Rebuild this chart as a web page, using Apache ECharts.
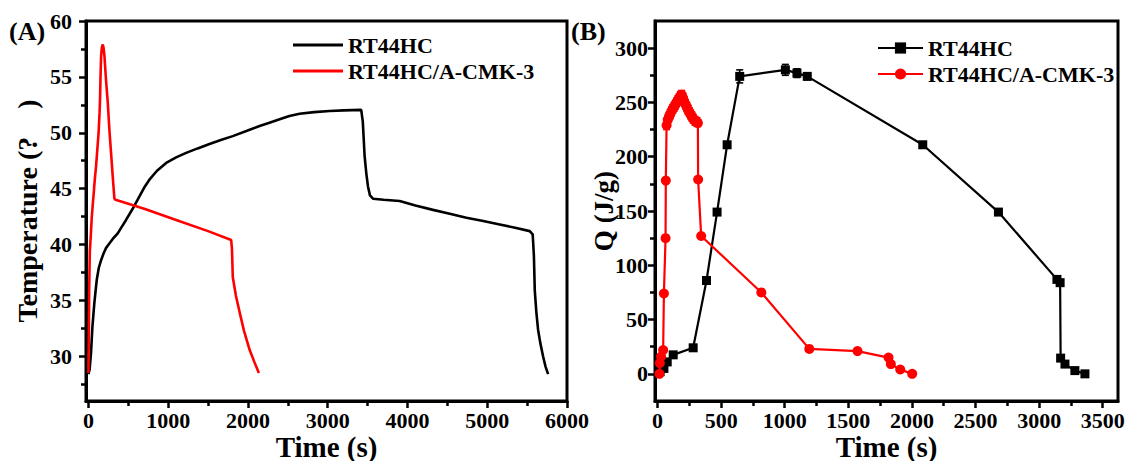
<!DOCTYPE html>
<html>
<head>
<meta charset="utf-8">
<script src="https://cdn.jsdelivr.net/npm/echarts@6/dist/echarts.min.js"></script>
<style>
  html, body { margin: 0; padding: 0; background: #fff; }
  #chart { width: 1126px; height: 461px; }
</style>
</head>
<body>
<div id="chart"></div>
<script>
// ---- data ----------------------------------------------------------------
const nameA = 'RT44HC';
const nameB = 'RT44HC/A-CMK-3';

// (A) temperature history, [time (s), temperature]
const tempRT44HC = [
  [0, 28.4], [15, 28.8], [33, 30.3], [50, 32.6], [75, 34.8], [104, 36.8], [130, 37.9],
  [159, 38.6], [190, 39.2], [222, 39.7], [263, 40.1], [305, 40.5], [368, 41.0], [420, 41.6],
  [472, 42.2], [555, 43.2], [640, 44.3], [700, 45.1], [765, 45.8], [860, 46.6], [975, 47.3],
  [1100, 47.8], [1225, 48.2], [1370, 48.6], [1518, 49.0], [1660, 49.35], [1810, 49.7],
  [1980, 50.15], [2146, 50.6], [2270, 50.9], [2397, 51.2], [2520, 51.5], [2648, 51.7],
  [2830, 51.85], [3024, 51.95], [3200, 52.0], [3420, 52.05], [3440, 51.0], [3463, 47.9],
  [3485, 46.3], [3505, 45.2], [3530, 44.4], [3568, 44.1], [3700, 44.0], [3902, 43.9],
  [4100, 43.5], [4320, 43.1], [4530, 42.75], [4739, 42.4], [4950, 42.1], [5157, 41.8],
  [5350, 41.5], [5533, 41.2], [5570, 40.9], [5585, 39.0], [5596, 35.9], [5615, 34.0],
  [5637, 32.4], [5665, 31.2], [5700, 30.0], [5730, 29.1], [5763, 28.4]
];
const tempComposite = [
  [0, 28.5], [5, 31.5], [10, 36.0], [18, 39.4], [30, 40.8], [42, 42.4], [55, 43.6],
  [67, 44.6], [80, 45.8], [96, 47.0], [113, 48.6], [128, 50.0], [140, 51.8], [146, 53.0],
  [152, 55.0], [159, 56.8], [168, 57.6], [180, 57.9], [190, 57.6], [201, 56.9], [220, 54.8],
  [243, 52.7], [262, 50.4], [284, 48.2], [305, 46.1], [326, 44.1], [340, 44.0], [700, 43.2],
  [1100, 42.2], [1500, 41.2], [1790, 40.4], [1800, 39.6], [1810, 37.1], [1850, 35.4],
  [1894, 34.0], [1950, 32.3], [2020, 30.6], [2080, 29.5], [2137, 28.5]
];

// (B) released heat Q (J/g) with error
const qTimeRT44HC = [20, 50, 76, 123, 280, 385, 468, 547, 646, 1005, 1096, 1177, 2085, 2680, 3140, 3165, 3169, 3203, 3281, 3360];
const qRT44HC     = [2, 5, 11, 17.5, 24, 86, 149, 211, 274, 280, 277, 274, 211, 149, 87, 84, 14.5, 9, 3, 0];
const qErrRT44HC  = [0, 0, 0, 0, 0, 0, 0, 0, 6, 5, 4, 3, 0, 0, 0, 0, 0, 0, 0, 0];

const qTimeComposite = [15, 18, 28, 44, 50, 63, 65, 71, 80, 90, 100, 110, 120, 130, 140, 150, 160, 170,
  180, 190, 200, 210, 220, 230, 240, 250, 260, 270, 280, 295, 310, 317, 319, 343, 816, 1193, 1572,
  1816, 1834, 1908, 2002];
const qComposite = [0, 10, 16, 22, 74, 125, 178, 229, 234, 237, 239, 242, 244, 246, 248, 250, 252, 254,
  256, 257, 254, 251, 248, 246, 243, 241, 239, 237, 235, 233, 232, 231, 179, 127, 75, 23, 21,
  15, 9, 4, 0];
const qErrComposite = [0, 0, 0, 0, 0, 0, 0, 4, 4, 4, 4, 4, 4, 4, 4, 4, 4, 4,
  4, 4, 4, 4, 4, 4, 4, 4, 4, 4, 4, 4, 4, 3, 0, 0, 0, 0, 0,
  0, 0, 0, 0];

// tick positions
const timeTicksA  = [0, 1000, 2000, 3000, 4000, 5000, 6000];
const timeMinorA  = [500, 1500, 2500, 3500, 4500, 5500];
const tempTicks   = [30, 35, 40, 45, 50, 55, 60];
const tempMinor   = [27.5, 32.5, 37.5, 42.5, 47.5, 52.5, 57.5];
const timeTicksB  = [0, 500, 1000, 1500, 2000, 2500, 3000, 3500];
const timeMinorB  = [250, 750, 1250, 1750, 2250, 2750, 3250];
const qTicks      = [0, 50, 100, 150, 200, 250, 300];
const qMinor      = [25, 75, 125, 175, 225, 275];

// ---- styling helpers -----------------------------------------------------
const FONT = '"Liberation Serif", "Times New Roman", serif';
const BLACK = '#000000';
const RED = '#ff0000';

function mainAxis(gridIndex, position, min, max, ticks, labelMargin, name, nameGap, nameSize) {
  return {
    type: 'value', gridIndex, position, min, max,
    name, nameLocation: 'middle', nameGap, nameMoveOverlap: false,
    nameTextStyle: { fontFamily: FONT, fontWeight: 'bold', fontSize: nameSize, color: BLACK },
    axisLine: { show: true, onZero: false, lineStyle: { color: BLACK, width: 3 } },
    axisTick: { show: true, inside: false, length: 7, customValues: ticks, lineStyle: { color: BLACK, width: 2.5 } },
    axisLabel: {
      show: true, customValues: ticks, margin: labelMargin,
      formatter: v => String(v),
      fontFamily: FONT, fontWeight: 'bold', fontSize: 22, color: BLACK
    },
    splitLine: { show: false }
  };
}
function minorAxis(gridIndex, position, min, max, ticks) {
  return {
    type: 'value', gridIndex, position, min, max,
    axisLine: { show: false, onZero: false },
    axisTick: { show: true, inside: false, length: 5, customValues: ticks, lineStyle: { color: BLACK, width: 2.5 } },
    axisLabel: { show: false },
    splitLine: { show: false }
  };
}
function pairs(xs, ys) { return xs.map((x, i) => [x, ys[i]]); }
function triples(xs, ys, es) { return xs.map((x, i) => [x, ys[i], es[i]]); }

function errorBars(xIdx, yIdx, data, color) {
  return {
    type: 'custom', xAxisIndex: xIdx, yAxisIndex: yIdx, silent: true, z: 3,
    encode: { x: 0, y: 1 },
    data,
    renderItem(params, api) {
      const x = api.value(0), y = api.value(1), e = api.value(2);
      if (!e) return null;
      const hi = api.coord([x, y + e]);
      const lo = api.coord([x, y - e]);
      const cap = 3.5;
      const style = { stroke: color, lineWidth: 1.6 };
      return {
        type: 'group',
        children: [
          { type: 'line', shape: { x1: hi[0], y1: hi[1], x2: lo[0], y2: lo[1] }, style },
          { type: 'line', shape: { x1: hi[0] - cap, y1: hi[1], x2: hi[0] + cap, y2: hi[1] }, style },
          { type: 'line', shape: { x1: lo[0] - cap, y1: lo[1], x2: lo[0] + cap, y2: lo[1] }, style }
        ]
      };
    }
  };
}

const legendText = { fontFamily: FONT, fontWeight: 'bold', fontSize: 22, color: BLACK };

// ---- chart ---------------------------------------------------------------
const chart = echarts.init(document.getElementById('chart'), null, { renderer: 'svg' });

const gridBase = { top: 21, bottom: 60, show: true, borderColor: BLACK, borderWidth: 3, containLabel: false, outerBoundsMode: 'none' };

const option = {
  backgroundColor: '#ffffff',
  animation: false,
  grid: [
    Object.assign({ left: 86, right: 559 }, gridBase),
    Object.assign({ left: 655, right: 8 }, gridBase)
  ],
  xAxis: [
    mainAxis(0, 'bottom', -30, 6000, timeTicksA, 8, 'Time (s)', 31, 29),
    minorAxis(0, 'bottom', -30, 6000, timeMinorA),
    mainAxis(1, 'bottom', -20, 3620, timeTicksB, 8, 'Time (s)', 31, 29),
    minorAxis(1, 'bottom', -20, 3620, timeMinorB)
  ],
  yAxis: [
    mainAxis(0, 'left', 26, 60, tempTicks, 14, 'Temperature (?\u2002\u2002)', 45, 28),
    minorAxis(0, 'left', 26, 60, tempMinor),
    mainAxis(1, 'left', -25, 325, qTicks, 7, 'Q (J/g)', 38, 27),
    minorAxis(1, 'left', -25, 325, qMinor)
  ],
  legend: [
    {
      data: [
        { name: nameA, icon: 'rect', itemStyle: { color: BLACK } },
        { name: nameB, icon: 'rect', itemStyle: { color: RED } }
      ],
      orient: 'vertical', left: 288, top: 29, itemGap: 4,
      itemWidth: 50, itemHeight: 3,
      textStyle: legendText,
      selectedMode: false
    },
    {
      data: [nameA + ' ·Q', nameB + ' ·Q'],
      formatter: n => n.replace(' ·Q', ''),
      orient: 'vertical', left: 872, top: 32, itemGap: 4,
      itemWidth: 45, itemHeight: 14,
      textStyle: legendText,
      selectedMode: false
    }
  ],
  graphic: [
    { type: 'text', left: 9, top: 18, style: { text: '(A)', font: 'bold 26px "Liberation Serif", serif', fill: BLACK } },
    { type: 'text', left: 571, top: 18, style: { text: '(B)', font: 'bold 26px "Liberation Serif", serif', fill: BLACK } }
  ],
  series: [
    {
      name: nameA, type: 'line', xAxisIndex: 0, yAxisIndex: 0, data: tempRT44HC,
      symbol: 'none', lineStyle: { color: BLACK, width: 2.6 }, itemStyle: { color: BLACK }, z: 2
    },
    {
      name: nameB, type: 'line', xAxisIndex: 0, yAxisIndex: 0, data: tempComposite,
      symbol: 'none', lineStyle: { color: RED, width: 2.6 }, itemStyle: { color: RED }, z: 3
    },
    {
      name: nameA + ' ·Q', type: 'line', xAxisIndex: 2, yAxisIndex: 2, data: pairs(qTimeRT44HC, qRT44HC),
      symbol: 'rect', symbolSize: 9, lineStyle: { color: BLACK, width: 2.2 }, itemStyle: { color: BLACK }, z: 4
    },
    errorBars(2, 2, triples(qTimeRT44HC, qRT44HC, qErrRT44HC), BLACK),
    {
      name: nameB + ' ·Q', type: 'line', xAxisIndex: 2, yAxisIndex: 2, data: pairs(qTimeComposite, qComposite),
      symbol: 'circle', symbolSize: 10, lineStyle: { color: RED, width: 2.2 }, itemStyle: { color: RED }, z: 5
    },
    errorBars(2, 2, triples(qTimeComposite, qComposite, qErrComposite), RED)
  ]
};

chart.setOption(option);
</script>
</body>
</html>
